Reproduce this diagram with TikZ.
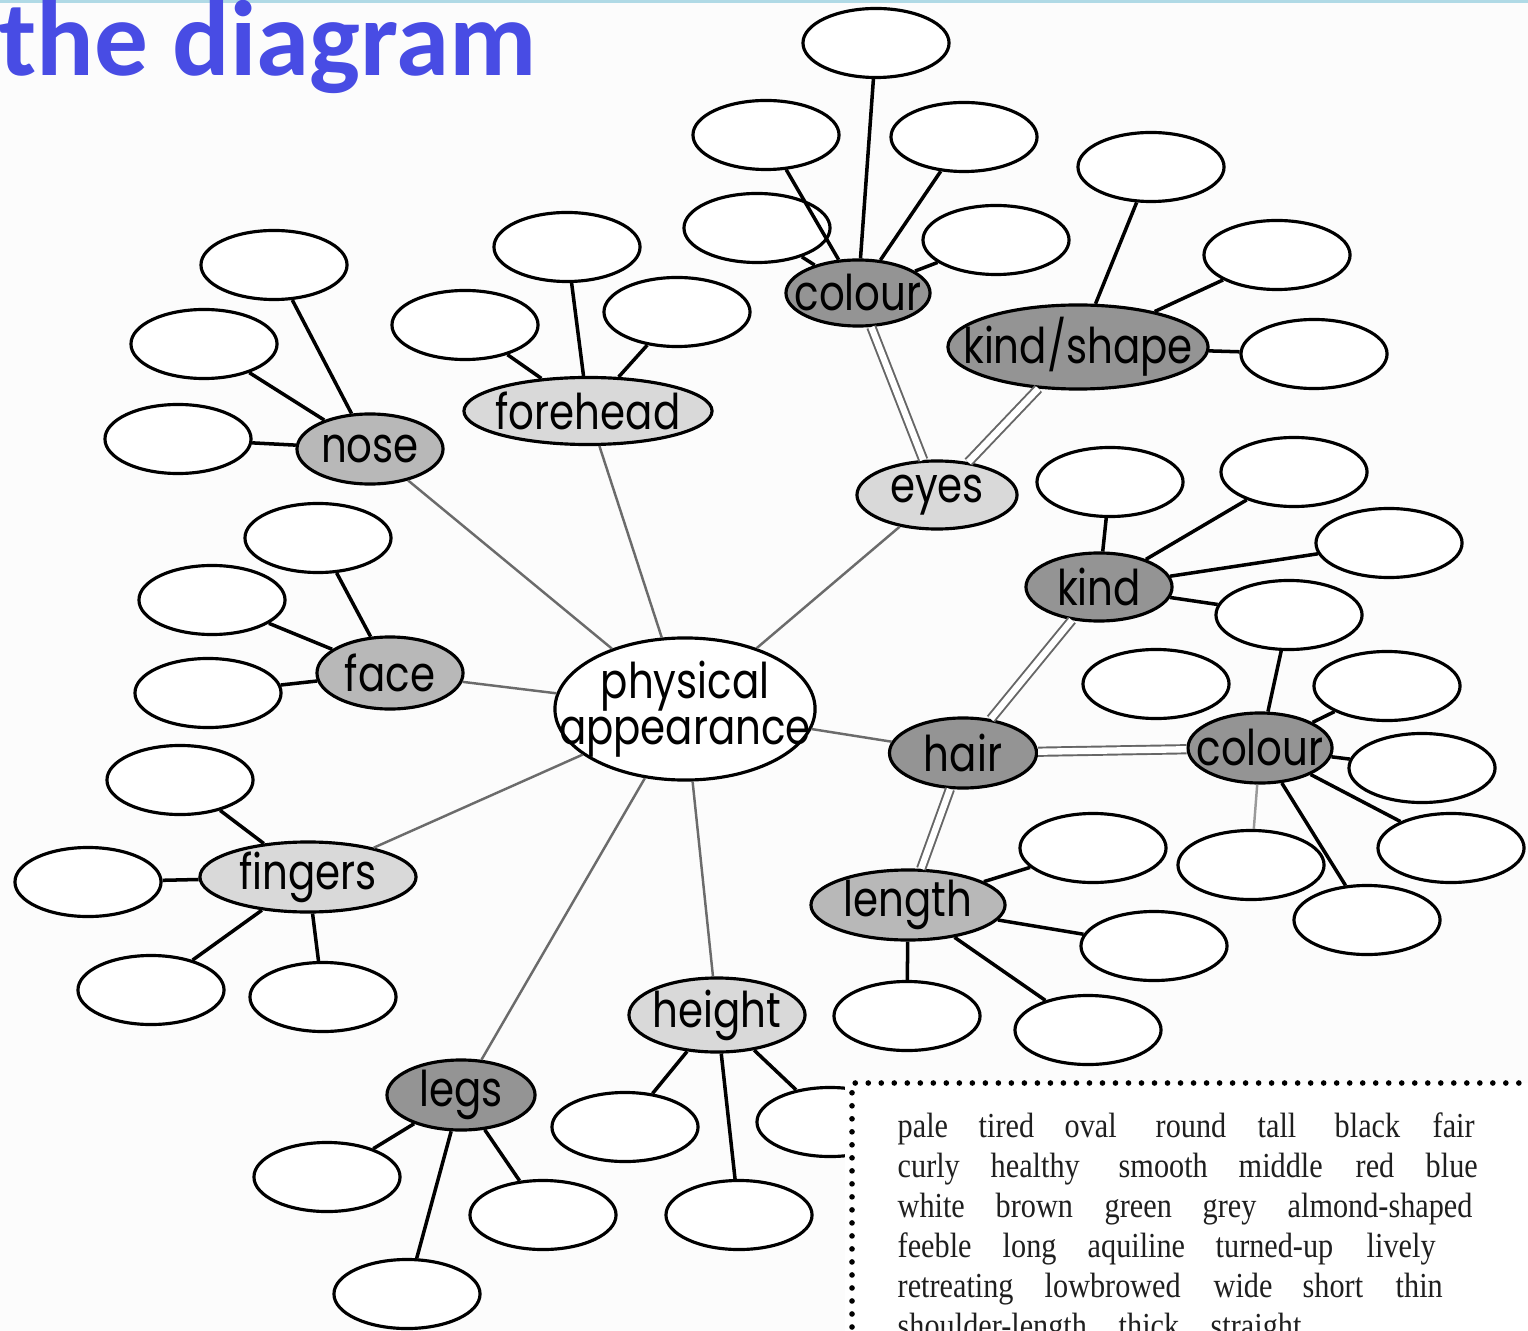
\documentclass[tikz,border=0pt]{standalone}
\usepackage{fontspec}
\usetikzlibrary{shapes.geometric}
\newfontfamily\labelfont[FakeStretch=0.82]{Poppins}
\newfontfamily\listfont[FakeStretch=0.86]{Liberation Serif}
\newfontfamily\titlefont{Carlito}
\definecolor{titleblue}{RGB}{72,76,228}
\definecolor{topband}{RGB}{176,218,230}
\tikzset{
  blank/.style={ellipse, draw, line width=0.9pt, fill=white, minimum width=1.46cm, minimum height=0.69cm, inner sep=0pt},
  hub/.style n args={3}{ellipse, draw, line width=0.9pt, inner sep=0pt, minimum width=#1, minimum height=#2, label=center:{#3}},
  light/.style={fill=black!15},
  mid/.style={fill=black!28},
  dark/.style={fill=black!42},
  every label/.style={inner sep=0pt, font=\labelfont\fontsize{14}{15}\selectfont},
  twig/.style={line width=1pt},
  spoke/.style={black!58, line width=0.7pt},
  twin/.style={draw=black!60, double=white, double distance=1.8pt, line width=0.55pt},
  word/.style={anchor=base west, inner sep=0pt, text=black!88, font=\listfont\fontsize{10}{12}\selectfont}
}
\begin{document}
\begin{tikzpicture}[x=0.01cm, y=-0.01cm]
  \useasboundingbox (0,0) rectangle (1528,1331);
  \clip (0,0) rectangle (1528,1331);
  \fill[black!1] (0,0) rectangle (1528,1331);
  \fill[topband] (0,0) rectangle (1528,3);
  \node[anchor=base west, inner sep=0pt, text=titleblue, font=\titlefont\bfseries\fontsize{30.5}{32}\selectfont] (title) at (-1,76) {the diagram};

  % centre
  \node[ellipse, draw, line width=0.9pt, fill=white, inner sep=0pt, minimum width=2.6cm, minimum height=1.42cm,
        label={[align=center]center:{physical\\[-2pt]appearance}}] (phys) at (685,709) {};

  % main branches
  \node[hub={2.48cm}{0.67cm}{forehead}, light] (fore) at (588,411) {};
  \node[hub={1.46cm}{0.70cm}{nose}, mid] (nose) at (370,449) {};
  \node[hub={1.46cm}{0.72cm}{face}, mid] (face) at (390,673) {};
  \node[hub={2.16cm}{0.70cm}{fingers}, light] (fing) at (308,877) {};
  \node[hub={1.48cm}{0.70cm}{legs}, dark] (legs) at (461,1095) {};
  \node[hub={1.76cm}{0.74cm}{height}, light] (height) at (717,1015) {};
  \node[hub={1.60cm}{0.68cm}{eyes}, light] (eyes) at (937,495) {};
  \node[hub={1.47cm}{0.70cm}{hair}, dark] (hair) at (963,753) {};

  % sub branches
  \node[hub={1.44cm}{0.66cm}{colour}, dark] (colE) at (858,293) {};
  \node[hub={2.60cm}{0.84cm}{kind/shape}, dark] (kshape) at (1078,347) {};
  \node[hub={1.46cm}{0.68cm}{kind}, dark] (kind) at (1099,587) {};
  \node[hub={1.44cm}{0.70cm}{colour}, dark] (colH) at (1260,748) {};
  \node[hub={1.94cm}{0.70cm}{length}, mid] (len) at (908,905) {};

  % empty ovals
  \node[blank] (ce1) at (876,43) {};
  \node[blank] (ce2) at (766,135) {};
  \node[blank] (ce3) at (964,137) {};
  \node[blank] (ce4) at (757,228) {};
  \node[blank] (ce5) at (996,240) {};
  \node[blank] (ks1) at (1151,167) {};
  \node[blank] (ks2) at (1277,255) {};
  \node[blank] (ks3) at (1314,354) {};
  \node[blank] (fh1) at (567,247) {};
  \node[blank] (fh2) at (465,325) {};
  \node[blank] (fh3) at (677,312) {};
  \node[blank] (ns1) at (274,265) {};
  \node[blank] (ns2) at (204,344) {};
  \node[blank] (ns3) at (178,439) {};
  \node[blank] (fc1) at (318,538) {};
  \node[blank] (fc2) at (212,600) {};
  \node[blank] (fc3) at (208,693) {};
  \node[blank] (fg1) at (180,780) {};
  \node[blank] (fg2) at (88,882) {};
  \node[blank] (fg3) at (151,990) {};
  \node[blank] (fg4) at (323,997) {};
  \node[blank] (lg1) at (327,1177) {};
  \node[blank] (lg2) at (543,1215) {};
  \node[blank] (lg3) at (407,1294) {};
  \node[blank] (ht1) at (625,1127) {};
  \node[blank] (ht2) at (739,1215) {};
  \node[blank] (ht3) at (830,1122) {};
  \node[blank] (ln1) at (1093,848) {};
  \node[blank] (ln2) at (1154,946) {};
  \node[blank] (ln3) at (907,1016) {};
  \node[blank] (ln4) at (1088,1030) {};
  \node[blank] (kd1) at (1110,482) {};
  \node[blank] (kd2) at (1294,472) {};
  \node[blank] (kd3) at (1389,543) {};
  \node[blank] (kd4) at (1289,615) {};
  \node[blank] (ch1) at (1156,684) {};
  \node[blank] (ch2) at (1387,686) {};
  \node[blank] (ch3) at (1422,768) {};
  \node[blank] (ch4) at (1451,848) {};
  \node[blank] (ch5) at (1367,920) {};
  \node[blank] (ch6) at (1251,865) {};

  % connectors
  \foreach \n in {fore,nose,face,fing,legs,height,eyes,hair}
    \draw[spoke] (phys) -- (\n);
  \draw[twin] (eyes) -- (colE);
  \draw[twin] (eyes) -- (kshape);
  \draw[twin] (hair) -- (kind);
  \draw[twin] (hair) -- (colH);
  \draw[twin] (hair) -- (len);
  \draw[spoke, black!40] (colH) -- (ch6);
  \foreach \b in {ce1,ce2,ce3,ce4,ce5} \draw[twig] (colE) -- (\b);
  \foreach \b in {ks1,ks2,ks3} \draw[twig] (kshape) -- (\b);
  \foreach \b in {fh1,fh2,fh3} \draw[twig] (fore) -- (\b);
  \foreach \b in {ns1,ns2,ns3} \draw[twig] (nose) -- (\b);
  \foreach \b in {fc1,fc2,fc3} \draw[twig] (face) -- (\b);
  \foreach \b in {fg1,fg2,fg3,fg4} \draw[twig] (fing) -- (\b);
  \foreach \b in {lg1,lg2,lg3} \draw[twig] (legs) -- (\b);
  \foreach \b in {ht1,ht2,ht3} \draw[twig] (height) -- (\b);
  \foreach \b in {ln1,ln2,ln3,ln4} \draw[twig] (len) -- (\b);
  \foreach \b in {kd1,kd2,kd3,kd4} \draw[twig] (kind) -- (\b);
  \foreach \b in {kd4,ch2,ch3,ch4,ch5} \draw[twig] (colH) -- (\b);

  % word box
  \fill[white] (845,1083) rectangle (1540,1340);
  \draw[line width=1.6pt, line cap=round, dash pattern=on 0pt off 3.7pt] (852,1340) -- (852,1083) -- (1540,1083);
  \foreach \w/\x/\y in {pale/897/1137, tired/978/1137, oval/1064/1137, round/1155/1137, tall/1257/1137, black/1334/1137, fair/1432/1137,
      curly/897/1177, healthy/990/1177, smooth/1118/1177, middle/1238/1177, red/1355/1177, blue/1425/1177,
      white/897/1217, brown/995/1217, green/1104/1217, grey/1202/1217, almond-shaped/1287/1217,
      feeble/897/1257, long/1002/1257, aquiline/1087/1257, turned-up/1215/1257, lively/1366/1257,
      retreating/897/1297, lowbrowed/1044/1297, wide/1213/1297, short/1302/1297, thin/1395/1297,
      shoulder-length/897/1337, thick/1118/1337, straight/1210/1337}
    \node[word] (w-\w) at (\x,\y) {\w};
\end{tikzpicture}
\end{document}
